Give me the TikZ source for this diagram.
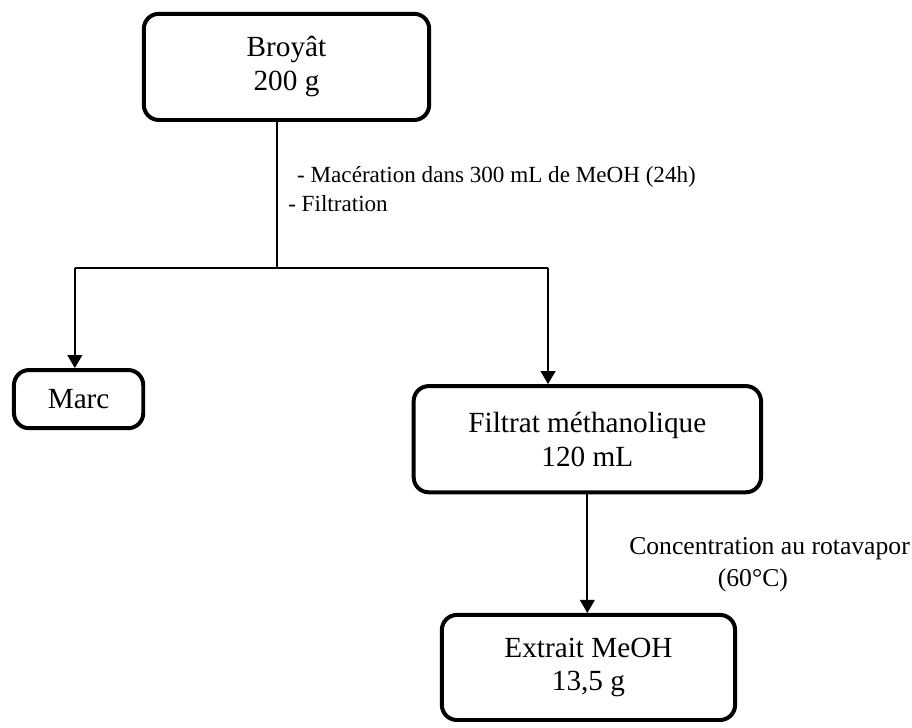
\documentclass[tikz,border=0pt]{standalone}
\usepackage{fontspec}
\setmainfont{Liberation Serif}
\usetikzlibrary{arrows.meta}
\tikzset{
  boite/.style={draw,line width=3pt,rounded corners=0.4cm,align=center,inner sep=0pt,font=\fontsize{22}{25.5}\selectfont},
  trait/.style={line width=1.1pt},
  fleche/.style={line width=1.4pt,-{Triangle[length=9.75pt,width=11pt]}},
  legende/.style={align=left,inner sep=0pt}
}
\begin{document}
\begin{tikzpicture}
\useasboundingbox (0,0) rectangle (24.13,-19.26);
\node[boite,minimum width=7.55cm,minimum height=2.81cm] (broyat) at (7.58,-1.77) {Broyât\\200 g};
\node[boite,minimum width=3.42cm,minimum height=1.54cm] (marc) at (2.08,-10.56) {Marc};
\node[boite,minimum width=9.19cm,minimum height=2.81cm] (filtrat) at (15.54,-11.62) {Filtrat méthanolique\\120 mL};
\node[boite,minimum width=7.76cm,minimum height=2.78cm] (extrait) at (15.57,-17.66) {Extrait MeOH\\13,5 g};
\coordinate (noeud) at (7.33,-7.09);
\coordinate (gauche) at (1.98,-7.09);
\coordinate (droite) at (14.50,-7.09);
\draw[trait] (broyat.south -| noeud) -- (noeud);
\draw[trait] (gauche) -- (droite);
\draw[fleche] (gauche) -- (gauche |- marc.north);
\draw[fleche] (droite) -- (droite |- filtrat.north);
\draw[fleche] (filtrat.south) -- (filtrat.south |- extrait.north);
\node[legende,anchor=north west,font=\fontsize{17.4}{21.75}\selectfont] (etapes) at (7.62,-4.39) {\hspace*{6.75pt}- Macération dans 300 mL de MeOH (24h)\\- Filtration};
\node[legende,align=center,anchor=north,font=\fontsize{19.3}{24}\selectfont] (concentration) at (20.36,-14.21) {Concentration au rotavapor\\(60°C)\hspace*{25pt}};
\end{tikzpicture}
\end{document}
